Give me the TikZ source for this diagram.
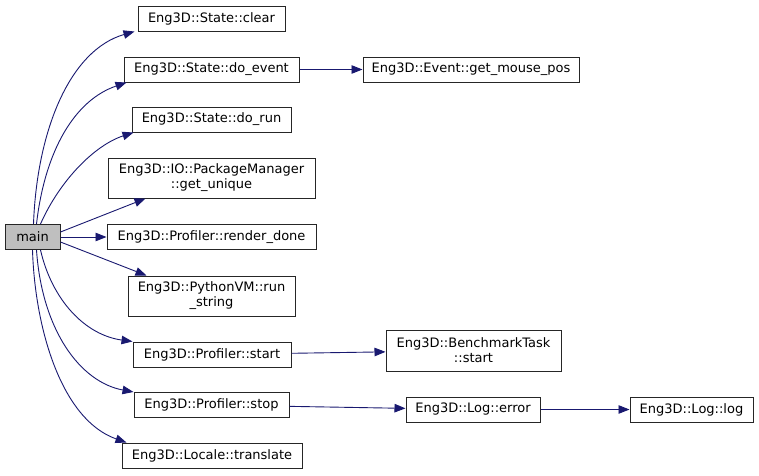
\documentclass[tikz,border=0pt]{standalone}
\usepackage{fontspec}
\setmainfont{DejaVu Sans}
\usetikzlibrary{arrows.meta}
\definecolor{edgeblue}{HTML}{191970}
\definecolor{rootgray}{HTML}{BFBFBF}
\begin{document}
\begin{tikzpicture}[
  x=1pt, y=-1pt,
  fn/.style={draw=black!85, fill=white, line width=1pt, align=center, inner xsep=3pt,
             inner ysep=2pt, minimum height=25pt, font=\fontsize{13}{15}\selectfont},
  root/.style={fn, fill=rootgray},
  call/.style={draw=edgeblue, line width=0.9pt, -{Triangle[length=11pt,width=8.5pt,fill=edgeblue]}}
]
\useasboundingbox (0,0) rectangle (759,475);

% called from main
\node[root, minimum width=55pt] (main) at (32.5,237) {main};
\node[fn, minimum width=147pt] (clear) at (211.5,18.5) {Eng3D::State::clear};
\node[fn, minimum width=175pt] (doevent) at (211.5,69.5) {Eng3D::State::do\_event};
\node[fn, minimum width=159pt] (dorun) at (211.5,119.5) {Eng3D::State::do\_run};
\node[fn, minimum width=207pt, minimum height=40pt] (getunique) at (211.5,178) {Eng3D::IO::PackageManager\\::get\_unique};
\node[fn, minimum width=209pt] (renderdone) at (211.5,237) {Eng3D::Profiler::render\_done};
\node[fn, minimum width=167pt, minimum height=40pt] (runstring) at (211.5,296) {Eng3D::PythonVM::run\\\_string};
\node[fn, minimum width=158pt] (pstart) at (212,354.5) {Eng3D::Profiler::start};
\node[fn, minimum width=155pt] (pstop) at (211.5,405) {Eng3D::Profiler::stop};
\node[fn, minimum width=180pt] (translate) at (212,455.5) {Eng3D::Locale::translate};

% next level
\node[fn, minimum width=216pt] (mousepos) at (471,69.5) {Eng3D::Event::get\_mouse\_pos};
\node[fn, minimum width=175pt, minimum height=41pt] (benchstart) at (473.5,350.5) {Eng3D::BenchmarkTask\\::start};
\node[fn, minimum width=134pt] (logerror) at (473,409.5) {Eng3D::Log::error};
\node[fn, minimum width=123pt] (loglog) at (691.5,409.5) {Eng3D::Log::log};

% edges
\draw[call] ([xshift=1pt]main.north) .. controls (37,130) and (70,50) .. ([xshift=-3pt]clear.south west);
\draw[call] ([xshift=4pt]main.north) .. controls (45,150) and (75,100) .. ([xshift=3pt]doevent.south west);
\draw[call] ([xshift=8pt]main.north) .. controls (60,180) and (95,145) .. ([xshift=2pt]dorun.south west);
\draw[call] ([yshift=5pt]main.east) -- ([xshift=38pt]getunique.south west);
\draw[call] (main) -- (renderdone);
\draw[call] ([yshift=-5pt]main.east) -- ([xshift=19pt]runstring.north west);
\draw[call] ([xshift=8pt]main.south) .. controls (52,300) and (85,335) .. (pstart.north west);
\draw[call] ([xshift=4pt]main.south) .. controls (42,330) and (80,382) .. (pstop.north west);
\draw[call] (main.south) .. controls (35,330) and (62,420) .. ([xshift=5pt]translate.north west);
\draw[call] (doevent) -- (mousepos);
\draw[call] (pstart) -- (benchstart);
\draw[call] (pstop) -- (logerror);
\draw[call] (logerror) -- (loglog);
\end{tikzpicture}
\end{document}
